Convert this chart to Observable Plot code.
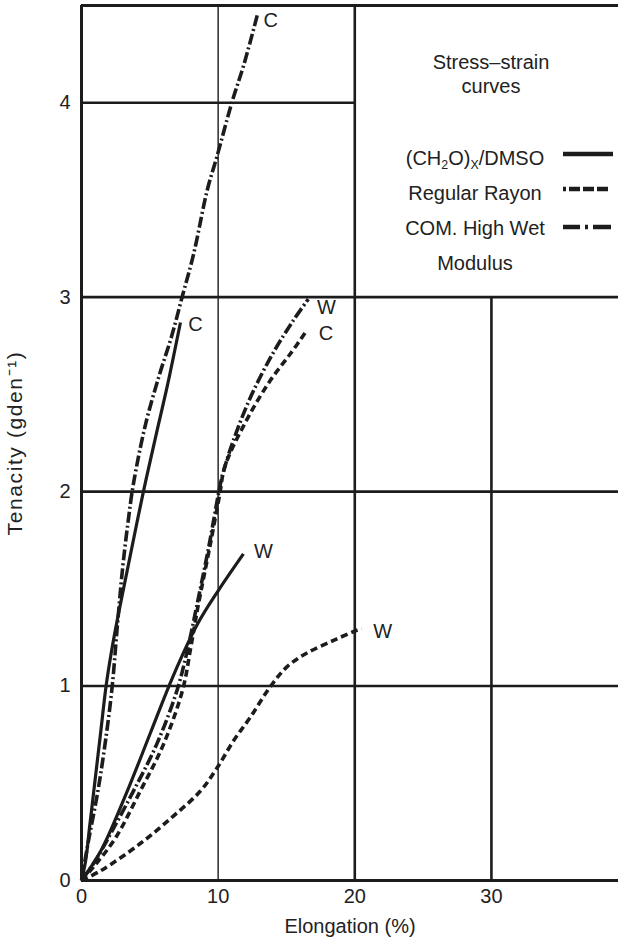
<!DOCTYPE html>
<html><head><meta charset="utf-8">
<script src="https://cdn.jsdelivr.net/npm/d3@7"></script>
<script src="https://cdn.jsdelivr.net/npm/@observablehq/plot@0.6"></script>
<style>
body{margin:0;background:#fff;font-family:"Liberation Sans",Arial,Helvetica,sans-serif;}
#wrap{position:relative;width:618px;height:943px;overflow:hidden;}
.lg{position:absolute;font-size:20px;line-height:24px;color:#222;text-align:center;white-space:nowrap;}
.lg sub{font-size:0.62em;line-height:0;vertical-align:-0.3em;}
#samples{position:absolute;left:0;top:0;}
</style>
</head><body>
<div id="wrap"></div>
<script>
// ---- data (elongation %, tenacity g/den) ----
const dmsoC_x  = [0, 0.3, 0.6, 0.9, 1.4, 1.8, 2.2, 2.7, 3.45, 4.5, 5.55, 6.3, 7.24];
const dmsoC_y  = [0, 0.1, 0.28, 0.46, 0.76, 1.0, 1.18, 1.37, 1.63, 1.99, 2.32, 2.55, 2.87];
const dmsoW_x  = [0, 1.4, 3.35, 5.05, 6.7, 8.5, 10.0, 11.85];
const dmsoW_y  = [0, 0.15, 0.46, 0.76, 1.05, 1.32, 1.49, 1.68];
const rayonC_x = [0, 1.0, 2.5, 4.3, 6.0, 7.4, 8.0, 8.5, 9.4, 10.1, 10.5, 12.1, 13.8, 15.3, 16.5];
const rayonC_y = [0, 0.08, 0.22, 0.46, 0.7, 0.98, 1.2, 1.4, 1.72, 1.98, 2.13, 2.37, 2.57, 2.71, 2.83];
const rayonW_x = [0, 1.4, 4.3, 6.7, 8.7, 9.93, 11.14, 12.36, 13.8, 15.05, 16.5, 18.45, 19.9, 20.5];
const rayonW_y = [0, 0.05, 0.19, 0.33, 0.46, 0.58, 0.72, 0.84, 0.995, 1.10, 1.17, 1.235, 1.28, 1.295];
const hwmC_x   = [0, 0.5, 1.2, 1.76, 2.25, 2.6, 3.0, 3.4, 3.8, 4.7, 5.7, 6.6, 7.4, 8.2, 9.2, 9.9, 11.0, 11.9, 12.9];
const hwmC_y   = [0, 0.2, 0.46, 0.72, 1.0, 1.29, 1.6, 1.84, 2.04, 2.35, 2.6, 2.8, 3.01, 3.22, 3.55, 3.72, 4.0, 4.2, 4.46];
const hwmW_x   = [0, 1.0, 2.2, 3.8, 5.5, 7.0, 7.8, 8.4, 9.3, 10.0, 10.3, 11.1, 12.4, 14.0, 15.5, 16.6];
const hwmW_y   = [0, 0.1, 0.25, 0.46, 0.7, 0.98, 1.2, 1.4, 1.71, 1.98, 2.08, 2.26, 2.49, 2.71, 2.88, 2.99];

const xTicks = [0, 10, 20, 30];
const yTicks = [0, 1, 2, 3, 4];
const xMax = 39.3, yMax = 4.5;

// grid segments of the printed chart paper
const vGrid_x    = [10, 20, 30];
const vGrid_top  = [yMax, yMax, 3];
const hGrid_y    = [1, 2, 3, 4];
const hGrid_end  = [xMax, xMax, xMax, 20];

const toPts = (xs, ys) => xs.map((x, i) => ({x, y: ys[i]}));
const ink = "#1c1c1c";

const series = [
  {name: "dmsoC",  pts: toPts(dmsoC_x, dmsoC_y),   lab: "C", dash: null},
  {name: "dmsoW",  pts: toPts(dmsoW_x, dmsoW_y),   lab: "W", dash: null},
  {name: "rayonC", pts: toPts(rayonC_x, rayonC_y), lab: "C", dash: "7,4"},
  {name: "rayonW", pts: toPts(rayonW_x, rayonW_y), lab: "W", dash: "7,4"},
  {name: "hwmC",   pts: toPts(hwmC_x, hwmC_y),     lab: "C", dash: "11,3,2,3"},
  {name: "hwmW",   pts: toPts(hwmW_x, hwmW_y),     lab: "W", dash: "11,3,2,3"}
];
const labelOff = {dmsoC:[15,2], dmsoW:[20,-2], rayonC:[19,3], rayonW:[21,3], hwmC:[13,7], hwmW:[18,8]};

const marks = [
  // frame
  Plot.ruleY([0, yMax], {x1: 0, x2: xMax, stroke: ink, strokeWidth: 3}),
  Plot.ruleX([0], {y1: 0, y2: yMax, stroke: ink, strokeWidth: 3}),
  // grid
  Plot.ruleX(vGrid_x.map((x, i) => ({x, top: vGrid_top[i]})).filter(d => d.x !== 10),
    {x: "x", y1: 0, y2: "top", stroke: ink, strokeWidth: 2.6}),
  Plot.ruleX(vGrid_x.map((x, i) => ({x, top: vGrid_top[i]})).filter(d => d.x === 10),
    {x: "x", y1: 0, y2: "top", stroke: ink, strokeWidth: 1.4}),
  Plot.ruleY(hGrid_y.map((y, i) => ({y, end: hGrid_end[i]})),
    {y: "y", x1: 0, x2: "end", stroke: ink, strokeWidth: 2.6}),
];
for (const s of series) {
  marks.push(Plot.line(s.pts, {x: "x", y: "y", curve: "catmull-rom", stroke: ink,
    strokeWidth: s.dash ? 3.6 : 3.2, strokeDasharray: s.dash, strokeLinecap: "butt"}));
  const last = s.pts[s.pts.length - 1];
  const [dx, dy] = labelOff[s.name];
  marks.push(Plot.text([last], {x: "x", y: "y", text: () => s.lab, dx, dy,
    fontSize: 20, fill: "#222", textAnchor: "middle"}));
}
marks.push(Plot.axisX(xTicks, {tickSize: 0, tickPadding: 8, fontSize: 20,
  label: "Elongation (%)", labelAnchor: "center", labelArrow: "none", labelOffset: 52}));
marks.push(Plot.axisY(yTicks, {tickSize: 0, tickPadding: 11, fontSize: 20, tickFormat: d3.format("d"),
  label: "Tenacity (gden\u207B\u00B9)", labelAnchor: "center", labelArrow: "none", labelOffset: 74}));

const chart = Plot.plot({
  width: 618, height: 943,
  marginLeft: 81, marginRight: 0, marginTop: 5, marginBottom: 63,
  x: {domain: [0, xMax]},
  y: {domain: [0, yMax]},
  style: {fontFamily: '"Liberation Sans", Arial, Helvetica, sans-serif', fontSize: "20px", color: "#222", background: "#fff"},
  marks
});
const wrap = document.getElementById("wrap");
wrap.appendChild(chart);
// the printed y title is slightly larger and more open
d3.select(chart).selectAll('g[aria-label="y-axis label"] text')
  .attr("font-size", 21).attr("letter-spacing", "1.6px");

// legend inside the empty panel (HTML overlay)
const legendItems = ["(CH<sub>2</sub>O)<sub>X</sub>/DMSO", "Regular Rayon", "COM. High Wet", "Modulus"];
const legendDash = [null, "3,3,11,3,11,3,11", "17,5,3,5,18"];
const add = (html, left, top, w) => {
  const d = document.createElement("div");
  d.className = "lg"; d.innerHTML = html;
  d.style.left = left + "px"; d.style.top = top + "px"; d.style.width = w + "px";
  wrap.appendChild(d);
};
add("Stress\u2013strain", 391, 50, 200);
add("curves", 391, 74, 200);
const rowTop = [146, 181, 216, 251];
legendItems.forEach((t, i) => add(t, 375, rowTop[i], 200));
const ns = "http://www.w3.org/2000/svg";
const svg = document.createElementNS(ns, "svg");
svg.setAttribute("id", "samples"); svg.setAttribute("width", 618); svg.setAttribute("height", 300);
const sampleY = [154, 189, 227];
sampleY.forEach((y, i) => {
  const l = document.createElementNS(ns, "line");
  l.setAttribute("x1", 563); l.setAttribute("x2", 613);
  l.setAttribute("y1", y); l.setAttribute("y2", y);
  l.setAttribute("stroke", ink); l.setAttribute("stroke-width", 4.5);
  if (legendDash[i]) l.setAttribute("stroke-dasharray", legendDash[i] + ",100");
  svg.appendChild(l);
});
wrap.appendChild(svg);
</script>
</body></html>
